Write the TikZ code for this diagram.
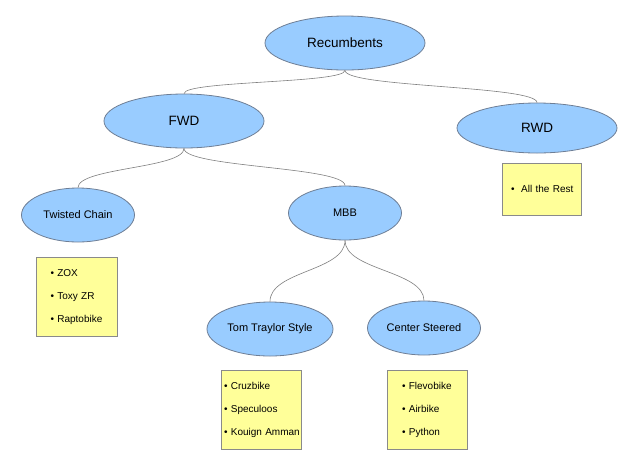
\documentclass[tikz,border=0pt]{standalone}
\usepackage{fontspec}
\setmainfont{Liberation Sans}
\usetikzlibrary{shapes.geometric}
\definecolor{ellfill}{HTML}{99CCFF}
\definecolor{elldraw}{HTML}{6E7E95}
\definecolor{boxfill}{HTML}{FFFF99}
\definecolor{boxdraw}{HTML}{8A8A8A}
\definecolor{linkcol}{HTML}{7F7F7F}
\tikzset{
  oval/.style={ellipse, draw=elldraw, fill=ellfill, inner sep=0pt, line width=0.8pt},
  bigoval/.style={oval, minimum width=160pt, minimum height=54pt, font=\fontsize{13.5}{16}\selectfont},
  smalloval/.style={oval, minimum width=113pt, minimum height=54pt, font=\fontsize{11}{13}\selectfont},
  listbox/.style={rectangle, draw=boxdraw, fill=boxfill, line width=0.8pt, align=left,
    font=\fontsize{10}{23}\selectfont, inner sep=0pt},
  link/.style={draw=linkcol, line width=0.6pt}
}
\newcommand\itm[2]{\hspace*{#1}\textbullet\ #2}
\begin{document}
\begin{tikzpicture}[x=1pt,y=-1pt]
\useasboundingbox (0,0) rectangle (640,467);
\node[bigoval] (rec) at (345,43) {Recumbents};
\node[bigoval] (fwd) at (184,121) {FWD};
\node[bigoval, minimum height=50pt] (rwd) at (537,128) {RWD};
\node[smalloval] (tc) at (78,215) {Twisted Chain};
\node[smalloval] (mbb) at (345,213) {MBB};
\node[smalloval, minimum width=126pt] (tts) at (270,329) {Tom Traylor Style};
\node[smalloval] (cs) at (424,328) {Center Steered};

\node[listbox, text width=81pt, minimum height=79pt] (tcb) at (77,297)
  {\itm{14pt}{ZOX}\\\itm{14pt}{Toxy ZR}\\\itm{14pt}{Raptobike}};
\node[listbox, text width=79pt, minimum height=52pt] (rwdb) at (541.5,189)
  {\itm{9pt}{\ All the Rest}};
\node[listbox, text width=80pt, minimum height=79pt] (ttsb) at (261,409.5)
  {\itm{3pt}{Cruzbike}\\\itm{3pt}{Speculoos}\\\itm{3pt}{Kouign Amman}};
\node[listbox, text width=80pt, minimum height=79pt] (csb) at (427,409.5)
  {\itm{15pt}{Flevobike}\\\itm{15pt}{Airbike}\\\itm{15pt}{Python}};

\draw[link] (rec.south) .. controls +(0,13) and +(0,-13) .. (fwd.north);
\draw[link] (rec.south) .. controls +(0,17) and +(0,-17) .. (rwd.north);
\draw[link] (fwd.south) .. controls +(0,20) and +(0,-20) .. (tc.north);
\draw[link] (fwd.south) .. controls +(0,19) and +(0,-19) .. (mbb.north);
\draw[link] (mbb.south) .. controls +(0,31) and +(0,-31) .. (tts.north);
\draw[link] (mbb.south) .. controls +(0,30) and +(0,-30) .. (cs.north);
\end{tikzpicture}
\end{document}
